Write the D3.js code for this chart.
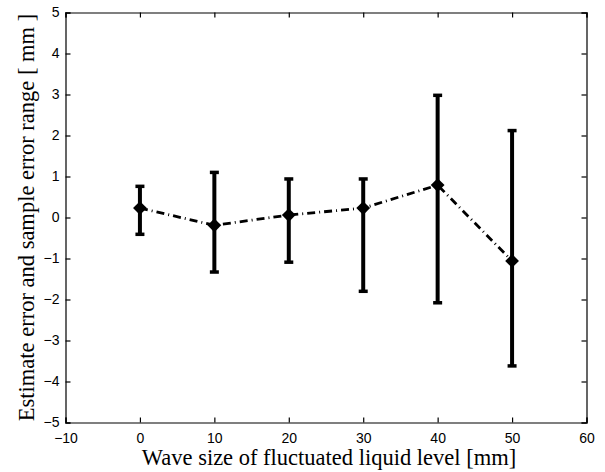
<!DOCTYPE html>
<html>
<head>
<script src="https://d3js.org/d3.v7.min.js"></script>
<style>
body {margin: 0; background: #fff;}
</style>
</head>
<body style="overflow: hidden;">
<div id="canvas"></div>
<script type="text/javascript">

var waveSize = [0, 10, 20, 30, 40, 50];
var estError = [0.23, -0.19, 0.06, 0.23, 0.79, -1.06];
var errTop = [0.76, 1.10, 0.94, 0.94, 2.98, 2.12];
var errBottom = [-0.41, -1.33, -1.09, -1.80, -2.08, -3.62];
var xTicks = [-10, 0, 10, 20, 30, 40, 50, 60];
var yTicks = [-5, -4, -3, -2, -1, 0, 1, 2, 3, 4, 5];

var width = 605, height = 472;
var margin = {left: 65.5, right: 18.5, top: 12.5, bottom: 49.5};

var svg = d3.select("#canvas").append("svg")
    .attr("width", width)
    .attr("height", height);

var x = d3.scaleLinear().domain([-10, 60]).range([margin.left, width - margin.right]);
var y = d3.scaleLinear().domain([-5, 5]).range([height - margin.bottom, margin.top]);

var fmt = function (d) { return d < 0 ? "\u2212" + Math.abs(d) : "" + d; };

// axes, MATLAB box style with inward ticks
var bottom = svg.append("g").attr("transform", "translate(0," + y(-5) + ")")
    .call(d3.axisBottom(x).tickValues(xTicks).tickSize(-5).tickPadding(11).tickFormat(fmt));
var top = svg.append("g").attr("transform", "translate(0," + y(5) + ")")
    .call(d3.axisTop(x).tickValues(xTicks).tickSize(-5).tickFormat(""));
var left = svg.append("g").attr("transform", "translate(" + x(-10) + ",0)")
    .call(d3.axisLeft(y).tickValues(yTicks).tickSize(-5).tickPadding(6).tickFormat(fmt));
var right = svg.append("g").attr("transform", "translate(" + x(60) + ",0)")
    .call(d3.axisRight(y).tickValues(yTicks).tickSize(-5).tickFormat(""));

svg.selectAll(".domain").attr("stroke", "#000").attr("stroke-width", 1.2);
svg.selectAll(".tick line").attr("stroke", "#000").attr("stroke-width", 1.2);
svg.selectAll(".tick text")
    .attr("font-family", "Liberation Sans, Arial, sans-serif")
    .attr("font-size", "14px")
    .attr("fill", "#000");

var pts = waveSize.map(function (d, i) {
    return {x: d, y: estError[i], hi: errTop[i], lo: errBottom[i]};
});

// dash-dot line
svg.append("path")
    .datum(pts)
    .attr("fill", "none")
    .attr("stroke", "#000")
    .attr("stroke-width", 2.8)
    .attr("stroke-dasharray", "8,4,1,4")
    .attr("d", d3.line().x(function (d) { return x(d.x); }).y(function (d) { return y(d.y); }));

// error bars
var bars = svg.selectAll(".err").data(pts).enter().append("g").attr("class", "err");
bars.append("line")
    .attr("x1", function (d) { return x(d.x); })
    .attr("x2", function (d) { return x(d.x); })
    .attr("y1", function (d) { return y(d.lo); })
    .attr("y2", function (d) { return y(d.hi); })
    .attr("stroke", "#000").attr("stroke-width", 4);
bars.append("line")
    .attr("x1", function (d) { return x(d.x) - 4.5; })
    .attr("x2", function (d) { return x(d.x) + 4.5; })
    .attr("y1", function (d) { return y(d.hi); })
    .attr("y2", function (d) { return y(d.hi); })
    .attr("stroke", "#000").attr("stroke-width", 3.5);
bars.append("line")
    .attr("x1", function (d) { return x(d.x) - 4.5; })
    .attr("x2", function (d) { return x(d.x) + 4.5; })
    .attr("y1", function (d) { return y(d.lo); })
    .attr("y2", function (d) { return y(d.lo); })
    .attr("stroke", "#000").attr("stroke-width", 3.5);

// diamond markers
svg.selectAll(".mk").data(pts).enter().append("path")
    .attr("class", "mk")
    .attr("d", d3.symbol().type(d3.symbolSquare).size(95))
    .attr("transform", function (d) { return "translate(" + x(d.x) + "," + y(d.y) + ") rotate(45)"; })
    .attr("fill", "#000");

// axis titles
svg.append("text")
    .attr("x", 329)
    .attr("y", 465)
    .attr("text-anchor", "middle")
    .attr("font-family", "Liberation Serif, Times New Roman, serif")
    .attr("font-size", "22.5px")
    .text("Wave size of fluctuated liquid level [mm]");

svg.append("text")
    .attr("transform", "translate(34," + ((y(-5) + y(5)) / 2) + ") rotate(-90)")
    .attr("text-anchor", "middle")
    .attr("font-family", "Liberation Serif, Times New Roman, serif")
    .attr("font-size", "22.5px")
    .text("Estimate error and sample error range [ mm ]");

</script>
</body>
</html>
